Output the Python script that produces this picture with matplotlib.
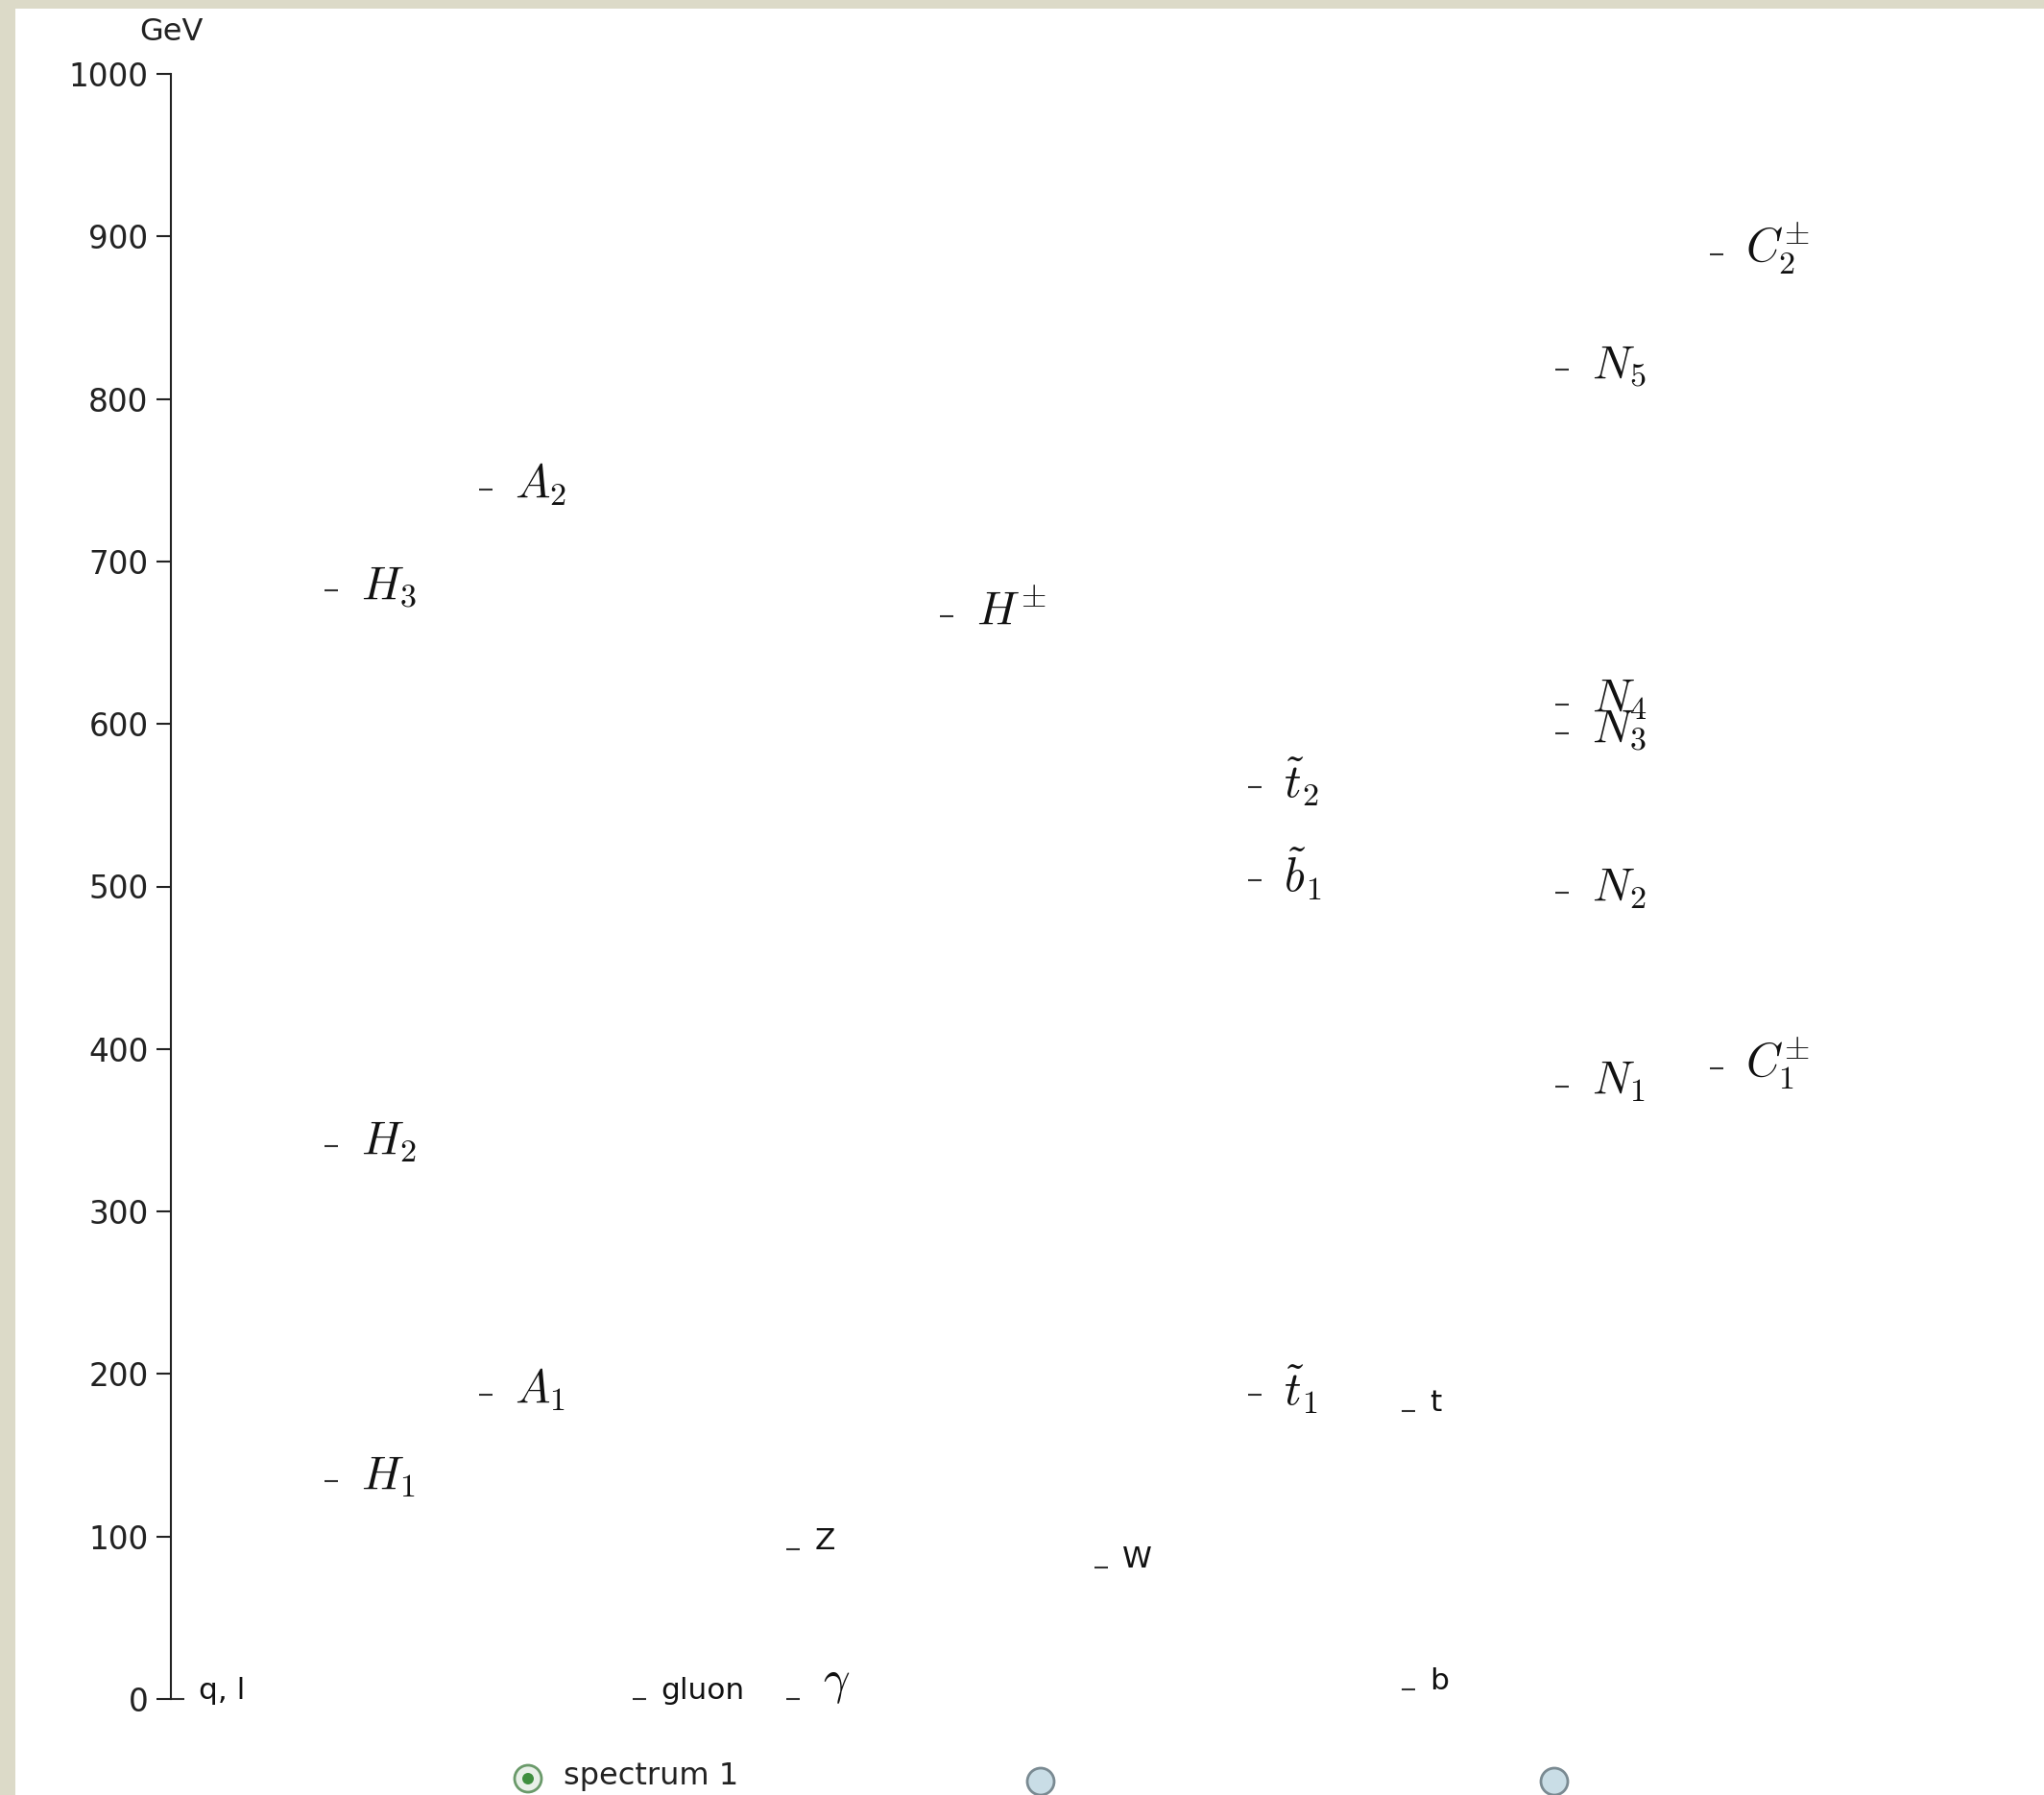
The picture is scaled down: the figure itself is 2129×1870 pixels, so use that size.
import matplotlib
matplotlib.use("Agg")
import matplotlib.pyplot as plt
from matplotlib.patches import Rectangle, Circle

plt.rcParams['font.family'] = ['DejaVu Sans']
plt.rcParams['mathtext.fontset'] = 'cm'

# particle spectrum (GeV), column index on the x axis
math_labels = [r'$H_1$', r'$H_2$', r'$H_3$', r'$A_1$', r'$A_2$', r'$\gamma$',
               r'$H^{\pm}$', r'$\tilde{t}_2$', r'$\tilde{b}_1$', r'$\tilde{t}_1$',
               r'$N_1$', r'$N_2$', r'$N_3$', r'$N_4$', r'$N_5$',
               r'$C^{\pm}_1$', r'$C^{\pm}_2$']
math_cols = [1, 1, 1, 2, 2, 4, 5, 7, 7, 7, 9, 9, 9, 9, 9, 10, 10]
math_mass = [134, 340, 682, 187, 744, 0, 666, 561, 504, 187,
             377, 496, 594, 612, 818, 388, 889]

sm_labels = ['q, l', 'gluon', 'Z', 'W', 't', 'b']
sm_cols = [0, 3, 4, 6, 8, 8]
sm_mass = [0, 0, 92, 81, 177, 6]

yticks = list(range(0, 1001, 100))

W, H = 2129, 1870
fig = plt.figure(figsize=(W / 100, H / 100), dpi=100)
fig.patch.set_facecolor('white')

# background frame strips
bg = fig.add_axes([0, 0, 1, 1], zorder=-1)
bg.set_xlim(0, W)
bg.set_ylim(H, 0)
bg.axis('off')
bg.add_patch(Rectangle((0, 0), 16, H, color='#dcdac8', lw=0))
bg.add_patch(Rectangle((0, 0), W, 9, color='#dcdac8', lw=0))

ax = fig.add_axes([178 / W, 100 / H, 1 - 178 / W, 1693 / H])
ax.patch.set_alpha(0)
ax.set_ylim(0, 1000)
ax.set_xlim(-0.044, 12.13)
for s in ['top', 'right', 'bottom']:
    ax.spines[s].set_visible(False)
ax.spines['left'].set_linewidth(1.5)
ax.spines['left'].set_color('#222222')
ax.set_xticks([])
ax.set_yticks(yticks)
ax.tick_params(axis='y', length=11, width=1.5, pad=6, labelsize=23.5,
               colors='#222222')

# level dashes
ax.plot(math_cols, math_mass, ls='none', marker='_', ms=10, mew=1.5,
        color='#333333', clip_on=False)
ax.plot(sm_cols, sm_mass, ls='none', marker='_', ms=10, mew=1.5,
        color='#333333', clip_on=False)

for lab, c, m in zip(math_labels, math_cols, math_mass):
    dy = 12 if lab == r'$\gamma$' else 4
    ax.annotate(lab, (c, m), xytext=(22, dy), textcoords='offset points',
                ha='left', va='center', fontsize=35, color='#111111',
                annotation_clip=False)

for lab, c, m in zip(sm_labels, sm_cols, sm_mass):
    ax.annotate(lab, (c, m), xytext=(16, 0), textcoords='offset points',
                ha='left', va='baseline', fontsize=22.5, color='#111111',
                annotation_clip=False)

fig.text(178 / W, 1 - 34 / H, 'GeV', ha='center', va='center', fontsize=23,
         color='#222222')

# spectrum selector
bg.add_patch(Circle((550, 1853), 14, facecolor='#e8f0e8', edgecolor='#6a9a6a', lw=2))
bg.add_patch(Circle((550, 1853), 6, facecolor='#3f8f3f', edgecolor='none'))
for xc in [1084, 1619]:
    bg.add_patch(Circle((xc, 1856), 14, facecolor='#c9dde6', edgecolor='#7a8a92', lw=2))
bg.text(587, 1851, 'spectrum 1', ha='left', va='center', fontsize=23,
        color='#222222')

fig.savefig('out.png', dpi=100)
